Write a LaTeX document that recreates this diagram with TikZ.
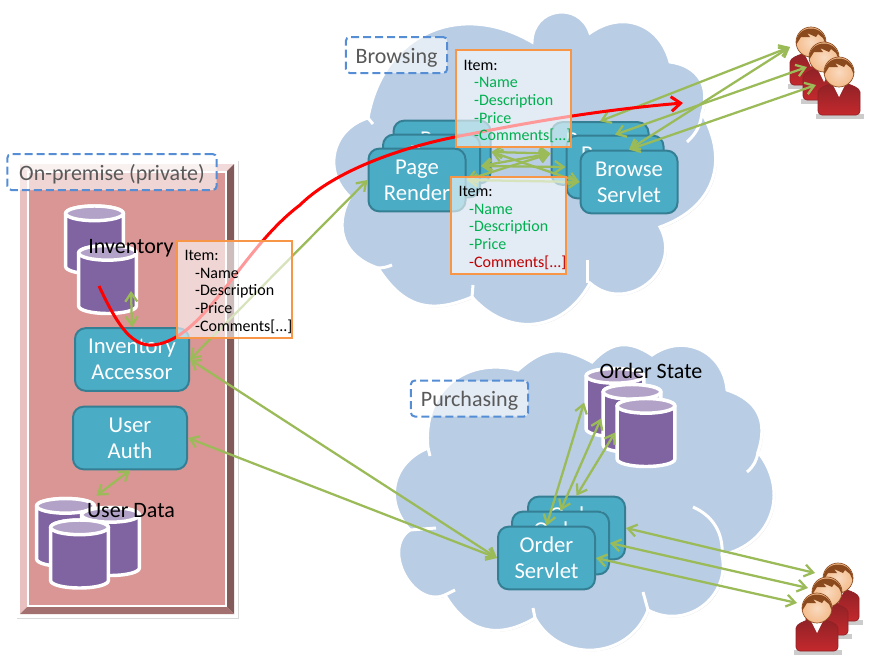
\documentclass[tikz,border=0pt]{standalone}
\usepackage{fontspec}
\setmainfont{Carlito}
\usetikzlibrary{arrows.meta,shadows}

\definecolor{cloudblue}{HTML}{B9CDE5}
\definecolor{boxteal}{HTML}{4BACC6}
\definecolor{boxrim}{HTML}{357F94}
\definecolor{dbpurple}{HTML}{8064A2}
\definecolor{dbtop}{HTML}{B3A2C7}
\definecolor{linkgreen}{HTML}{9BBB59}
\definecolor{itemorange}{HTML}{F79646}
\definecolor{dashblue}{HTML}{558ED5}
\definecolor{labelgray}{HTML}{595959}
\definecolor{okgreen}{HTML}{00B050}
\definecolor{badred}{HTML}{C00000}
\definecolor{wallfill}{HTML}{D99694}
\definecolor{skin}{HTML}{F4BC8C}
\definecolor{hair}{HTML}{8B4A1E}
\definecolor{shirt}{HTML}{C4292D}
\definecolor{shirtdark}{HTML}{8F2226}

\newcommand{\itemlist}[2]{\hspace*{4.5pt}Item:\\
  \hspace*{12.5pt}\textcolor{#1}{-Name}\\
  \hspace*{12.5pt}\textcolor{#1}{-Description}\\
  \hspace*{12.5pt}\textcolor{#1}{-Price}\\
  \hspace*{12.5pt}\textcolor{#2}{\mbox{-Comments[...]}}}

\tikzset{
  service/.style={rectangle,rounded corners=8pt,draw=boxrim,line width=1.5pt,fill=boxteal,
    text=white,align=center,minimum width=72.75pt,minimum height=47pt,inner sep=0pt,
    font=\fontsize{17}{19.6}\selectfont,execute at begin node=\rule{0pt}{14pt}},
  wide service/.style={service,minimum width=85.5pt},
  dbstore/.style={rectangle,minimum width=46pt,minimum height=56pt,inner sep=0pt,
    path picture={
      \begin{scope}[shift={(path picture bounding box.center)},white,line width=2.6pt]
        \draw[fill=dbpurple] (-21.6pt,20pt) -- (-21.6pt,-20pt)
          arc[start angle=180,end angle=360,x radius=21.6pt,y radius=5.5pt]
          -- (21.6pt,20pt) arc[start angle=0,end angle=180,x radius=21.6pt,y radius=5.5pt] -- cycle;
        \draw[fill=dbtop] (0pt,20pt) ellipse[x radius=21.6pt,y radius=5.5pt];
      \end{scope}
    }},
  itembox/.style={rectangle,draw=itemorange,line width=1.5pt,fill=white,fill opacity=0.6,text opacity=1,
    align=left,text width=84pt,minimum height=72.75pt,inner xsep=1.2pt,inner ysep=0pt,
    font=\fontsize{12}{13.2}\selectfont,execute at begin node=\rule{0pt}{12pt}},
  tagbox/.style={rectangle,rounded corners=3pt,draw=dashblue,line width=1.5pt,dash pattern=on 6pt off 3pt,
    fill=white,fill opacity=0.6,text opacity=1,text=labelgray,minimum height=27pt,inner sep=0pt,
    font=\fontsize{16.5}{18}\selectfont,execute at begin node=\rule{0pt}{15pt}},
  dblabel/.style={inner sep=0pt,font=\fontsize{16.5}{18}\selectfont},
  link/.style={draw=linkgreen,line width=1.7pt,<->,>={Straight Barb[length=6.5pt,width=9pt]}},
  flow/.style={draw=red,line width=2.25pt,->,>={Straight Barb[length=7pt,width=11pt]}},
  cloudshape/.style={fill=cloudblue,draw=white,line width=2.25pt,looseness=1.2,
    drop shadow={opacity=0.2,shadow xshift=1pt,shadow yshift=-1pt}},
  cloudtail/.style={draw=white,line width=2.25pt},
  person/.pic={
    \fill[black,opacity=0.2] (-23,42) rectangle (25,47);
    \draw[draw=shirtdark,line width=0.5pt,top color=shirtdark,bottom color=shirt,rounded corners=3pt]
      (-21,43) -- (-21,24) .. controls (-21,16) and (-12,13) .. (-6,11) -- (6,11)
      .. controls (12,13) and (21,16) .. (21,24) -- (21,43) -- cycle;
    \fill[white] (-8,9) -- (0,25) -- (8,9) -- cycle;
    \draw[hair,line width=0.5pt,inner color=skin!55!white,outer color=skin] (0,0) circle (15);
    \fill[hair] (-15,3) .. controls (-16,-19) and (16,-19) .. (15,3)
      -- (12,-4) -- (7,-8) -- (5,-5) -- (-4,-9) -- (-1,-5) -- (-10,-5) -- cycle;
  }
}

\begin{document}
\begin{tikzpicture}[x=0.75pt,y=-0.75pt]
  \useasboundingbox (0,0) rectangle (881,661);

  % Browsing cloud

  \path[cloudshape] (368,118) to[bend left=55] (532,42) to[bend left=80,looseness=1.5] (590,33)
    to[bend left=55] (670,62) to[bend left=50] (702,113) to[bend left=50] (660,227)
    to[bend left=80,looseness=1.4] (590,283) to[bend left=55] (472,297) to[bend left=40] (378,268)
    to[bend left=50] (350,197) to[bend left=60] cycle;
  \path[cloudtail] (702,113) to[bend left=20] (687,142);
  \path[cloudtail] (587,283) -- (587,260);
  \path[cloudtail] (378,268) to[bend right=10] (392,265);
  \path[cloudtail] (368,118) -- (373,124);
  \path[cloudtail] (472,297) -- (473,285);

  % Purchasing cloud

  \path[cloudshape] (428,448) to[bend left=55] (518,370) to[bend left=35] (592,362)
    to[bend left=40] (652,355) to[bend left=60] (727,390) to[bend left=45] (758,452)
    to[bend left=58] (722,555) to[bend left=65] (648,610) to[bend left=65] (535,618)
    to[bend left=45] (445,595) to[bend left=85] (410,530) to[bend left=55] cycle;
  \path[cloudtail] (758,452) to[bend left=20] (747,472);
  \path[cloudtail] (722,555) to[bend right=35] (693,507);
  \path[cloudtail] (648,610) -- (643,592);
  \path[cloudtail] (535,618) -- (533,608);
  \path[cloudtail] (445,595) -- (455,590);
  \path[cloudtail] (410,530) -- (436,528);
  \path[cloudtail] (428,448) -- (430,456);

  % On-premise wall with its bevel

  \fill[white,drop shadow={opacity=0.3,shadow xshift=1pt,shadow yshift=-1pt}] (16,160) rectangle (238,618);
  \fill[wallfill!60!white] (20,164) -- (28,172) -- (28,606) -- (20,614) -- cycle;
  \fill[wallfill!35!white] (20,164) -- (234,164) -- (226,172) -- (28,172) -- cycle;
  \fill[wallfill!60!black] (234,164) -- (234,614) -- (226,606) -- (226,172) -- cycle;
  \fill[wallfill!75!black] (20,614) -- (234,614) -- (226,606) -- (28,606) -- cycle;
  \draw[white,line width=1.5pt,fill=wallfill] (28,172) rectangle (226,606);

  % Stores

  \node [dbstore] (invBack) at (94.5,240) {};
  \node [dbstore] (invFront) at (107.5,279.5) {};
  \node [dbstore] (userLeft) at (65.5,532.5) {};
  \node [dbstore] (userRight) at (110.5,541.5) {};
  \node [dbstore] (userFront) at (79.5,554) {};
  \node [dbstore] (stateBack) at (615,402.5) {};
  \node [dbstore] (stateMid) at (632,418.5) {};
  \node [dbstore] (stateFront) at (646,432.5) {};

  % Servlets and other services

  \node [service] (pageBack) at (442,152) {Page\\Render};
  \node [service] (pageMid) at (431.5,166) {Page\\Render};
  \node [service] (pageFront) at (417,180) {Page\\Render};
  \node [service] (browseBack) at (600,153.5) {Browse\\Servlet};
  \node [service] (browseMid) at (615,167) {Browse\\Servlet};
  \node [service] (browseFront) at (629,182) {Browse\\Servlet};
  \node [service] (orderBack) at (576.5,528) {Order\\Servlet};
  \node [service] (orderMid) at (560.5,543) {Order\\Servlet};
  \node [service] (orderFront) at (546.5,558) {Order\\Servlet};
  \node [wide service] (accessor) at (132,359.5) {Inventory\\Accessor};
  \node [wide service] (auth) at (130,438) {User\\Auth};

  % Users

  \pic at (811,42) {person};
  \pic at (824,57) {person};
  \pic at (839,72) {person};
  \pic at (838,578) {person};
  \pic at (827,592) {person};
  \pic at (817,608) {person};

  \coordinate (upperUserA) at (790,47);
  \coordinate (upperUserB) at (807,67);
  \coordinate (upperUserC) at (816,85);
  \coordinate (lowerUserA) at (815,573);
  \coordinate (lowerUserB) at (808,588);
  \coordinate (lowerUserC) at (797,603);
  \coordinate (invSocket) at (131,291);
  \coordinate (flowStart) at (99,286);
  \coordinate (flowEnd) at (683,103);
  \coordinate (flowBend) at (153,345);
  \coordinate (flowRise) at (300,205);
  \coordinate (flowPass) at (455,137);

  % Connections

  \path[link] (invSocket) -- (accessor.north);
  \path[link] (auth.south) -- (userLeft.50);
  \path[link] (accessor.east) -- (pageFront.west);
  \path[link] (accessor.east) -- (orderFront.west);
  \path[link] (auth.east) -- (orderFront.west);
  \path[link] (pageBack.east) -- (browseBack.west);
  \path[link] (pageBack.east) -- (browseFront.west);
  \path[link] (pageMid.east) -- (browseBack.west);
  \path[link] (pageMid.east) -- (browseMid.west);
  \path[link] (pageFront.east) -- (browseBack.west);
  \path[link] (pageFront.east) -- (browseFront.west);
  \path[link] (browseBack.north) -- (upperUserA);
  \path[link] (browseFront.north) -- (upperUserA);
  \path[link] (browseMid.north) -- (upperUserB);
  \path[link] (browseFront.north) -- (upperUserC);
  \path[link] (orderBack.east) -- (lowerUserA);
  \path[link] (orderMid.east) -- (lowerUserB);
  \path[link] (orderFront.east) -- (lowerUserC);
  \path[link] (orderFront.north) -- (stateBack.west);
  \path[link] (orderMid.north) -- (stateMid.west);
  \path[link] (orderBack.north) -- (stateFront.west);

  \path[flow] (flowStart) .. controls (115,320) and (130,347) .. (flowBend)
    .. controls (205,340) and (240,250) .. (flowRise)
    .. controls (330,175) and (390,150) .. (flowPass)
    .. controls (530,122) and (600,110) .. (flowEnd);

  % Item boxes

  \node [itembox] (itemTop) at (513.5,98.5) {\itemlist{okgreen}{okgreen}};
  \node [itembox] (itemBottom) at (508.5,225) {\itemlist{okgreen}{badred}};
  \node [itembox] (itemLeft) at (234.5,289) {\itemlist{black}{black}};

  % Labels

  \node [tagbox,minimum width=76pt] (tagBrowsing) at (396.5,55) {Browsing};
  \node [tagbox,minimum width=88pt] (tagPurchasing) at (469.5,398.5) {Purchasing};
  \node [tagbox,minimum width=157pt] (tagPrivate) at (112,172) {On-premise (private)};
  \node [dblabel] (invLabel) at (131,248) {Inventory};
  \node [dblabel] (userLabel) at (131,511) {User Data};
  \node [dblabel] (stateLabel) at (651,371) {Order State};
\end{tikzpicture}
\end{document}
